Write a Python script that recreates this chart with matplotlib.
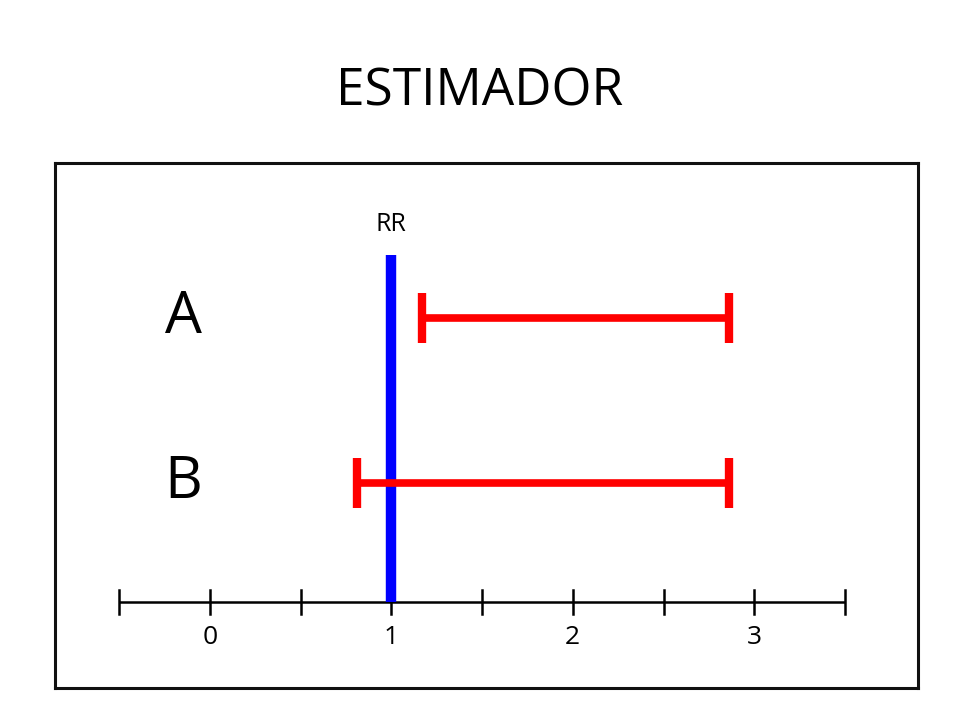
import matplotlib.pyplot as plt

# data
rows = ["A", "B"]
row_pos = [2, 1]
ci_low = [1.17, 0.81]
ci_high = [2.86, 2.86]
rr_value = 1
tick_major = [0, 1, 2, 3]
tick_minor = [-0.5, 0.5, 1.5, 2.5, 3.5]

plt.rcParams['font.family'] = ['Open Sans', 'DejaVu Sans']

fig = plt.figure(figsize=(9.6, 7.2), dpi=100)
ax = fig.add_axes([55 / 960, 32 / 720, 863 / 960, 525 / 720])
ax.set_xlim(-0.853, 3.902)
ax.set_ylim(-0.242, 2.939)
ax.set_xticks([])
ax.set_yticks([])
for sp in ax.spines.values():
    sp.set_linewidth(2.2)
    sp.set_color("#111111")

axis_y = 0.279

# number line
ax.plot([tick_minor[0], tick_minor[-1]], [axis_y, axis_y], color="black", lw=1.8,
        solid_capstyle="butt", zorder=2)
for t in tick_major + tick_minor:
    ax.plot([t, t], [axis_y - 0.07, axis_y + 0.07], color="black", lw=1.8, zorder=2)
for t in tick_major:
    ax.text(t, axis_y - 0.215, str(t), ha="center", va="center", fontsize=19)

# RR line
ax.plot([rr_value, rr_value], [axis_y, 2.382], color="#0000ff", lw=7.5,
        solid_capstyle="butt", zorder=3)
ax.text(rr_value, 2.565, "RR", ha="center", va="center", fontsize=18)

# intervals
for name, y, lo, hi in zip(rows, row_pos, ci_low, ci_high):
    ax.plot([lo, hi], [y, y], color="#ff0000", lw=5.5, solid_capstyle="butt", zorder=4)
    for x in (lo, hi):
        ax.plot([x, x], [y - 0.152, y + 0.152], color="#ff0000", lw=6,
                solid_capstyle="butt", zorder=4)
    ax.text(-0.145, y, name, ha="center", va="center", fontsize=42)

fig.text(0.5, 1 - 92 / 720, "ESTIMADOR", ha="center", va="center", fontsize=37)

fig.savefig("out.png", dpi=100)
